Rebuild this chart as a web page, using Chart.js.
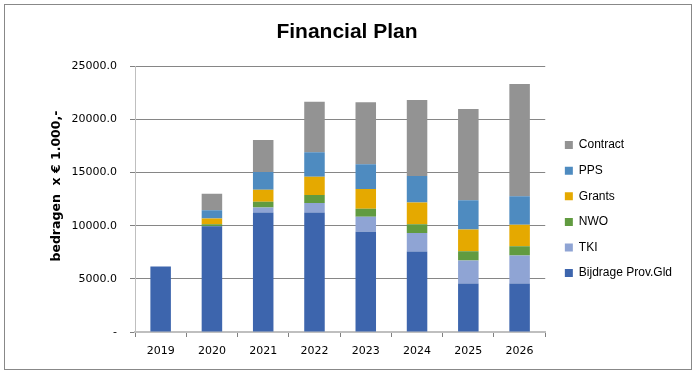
<!DOCTYPE html>
<html>
<head>
<meta charset="utf-8">
<script src="https://cdn.jsdelivr.net/npm/chart.js@4"></script>
<style>
    body { margin: 0; background: #fff; }
    #wrap { position: relative; width: 697px; height: 374px; }
    #frame { position: absolute; left: 4px; top: 4px; width: 686px; height: 364px; border: 1px solid #888; pointer-events: none; }
</style>
</head>
<body>
<div id="wrap">
    <canvas id="myChart" width="697" height="374"></canvas>
    <div id="frame"></div>
</div>
<script>
var years = ['2019', '2020', '2021', '2022', '2023', '2024', '2025', '2026'];
var bijdrage = [6150, 9950, 11230, 11230, 9420, 7570, 4560, 4560];
var tki = [0, 0, 470, 910, 1430, 1750, 2160, 2630];
var nwo = [0, 190, 560, 750, 750, 810, 880, 870];
var grants = [0, 530, 1130, 1720, 1860, 2040, 2030, 2020];
var pps = [0, 780, 1670, 2290, 2310, 2510, 2760, 2680];
var contract = [0, 1550, 3000, 4760, 5830, 7140, 8590, 10570];

var yMax = 25000;
var yStep = 5000;

function serie(label, data, color) {
    return {
        label: label,
        data: data,
        backgroundColor: color,
        borderWidth: 0,
        barPercentage: 0.4,
        categoryPercentage: 1
    };
}

var ctx = document.getElementById('myChart');
var myChart = new Chart(ctx, {
    type: 'bar',
    data: {
        labels: years,
        datasets: [
            serie('Bijdrage Prov.Gld', bijdrage, '#3d65ad'),
            serie('TKI', tki, '#8fa4d4'),
            serie('NWO', nwo, '#619b40'),
            serie('Grants', grants, '#e5a900'),
            serie('PPS', pps, '#4e8bc0'),
            serie('Contract', contract, '#939393')
        ]
    },
    options: {
        responsive: false,
        animation: false,
        layout: { padding: { left: 12, right: 15, top: 0, bottom: 5 } },
        plugins: {
            title: {
                display: true,
                text: 'Financial Plan',
                color: '#000',
                font: { family: 'Liberation Sans', size: 21, weight: 'bold', lineHeight: 1.2 },
                padding: { top: 20, bottom: 21 }
            },
            legend: {
                position: 'right',
                reverse: true,
                fullSize: false,
                maxWidth: 200,
                title: {
                    display: true,
                    text: ' ',
                    font: { size: 10, lineHeight: 1 },
                    padding: { top: 10, bottom: 0 }
                },
                labels: {
                    boxWidth: 8,
                    boxHeight: 8,
                    padding: 13.6,
                    color: '#000',
                    font: { family: 'Liberation Sans', size: 12 }
                }
            },
            tooltip: { enabled: false }
        },
        scales: {
            x: {
                stacked: true,
                grid: { display: true, drawOnChartArea: false, offset: true, tickLength: 5, tickColor: '#808080' },
                border: { color: '#bfbfbf', width: 2 },
                ticks: { color: '#000', padding: 8, font: { family: 'DejaVu Sans', size: 11 } },
                afterFit: function (s) { s.height = 37; }
            },
            y: {
                stacked: true,
                min: 0,
                max: yMax,
                grid: {
                    color: function (c) { return c.tick && c.tick.value === 0 ? 'rgba(0,0,0,0)' : '#868686'; },
                    tickLength: 5,
                    tickColor: '#808080'
                },
                border: { color: '#bfbfbf', width: 1 },
                ticks: {
                    stepSize: yStep,
                    color: '#000',
                    padding: 13,
                    font: { family: 'DejaVu Sans', size: 11 },
                    callback: function (v) { return v === 0 ? '-' : v.toFixed(1); }
                },
                title: {
                    display: true,
                    text: '\u00a0\u00a0\u00a0\u00a0\u00a0\u00a0bedragen  x € 1.000,-',
                    color: '#000',
                    font: { family: 'DejaVu Sans', size: 12.5, weight: 'bold' },
                    padding: { top: 37, bottom: 0 }
                },
                afterFit: function (s) { s.width = 123; }
            },
            y2: {
                position: 'right',
                display: true,
                grid: { display: false },
                border: { display: false },
                ticks: { display: false },
                afterFit: function (s) { s.width = 6; }
            }
        }
    }
});
</script>
</body>
</html>
